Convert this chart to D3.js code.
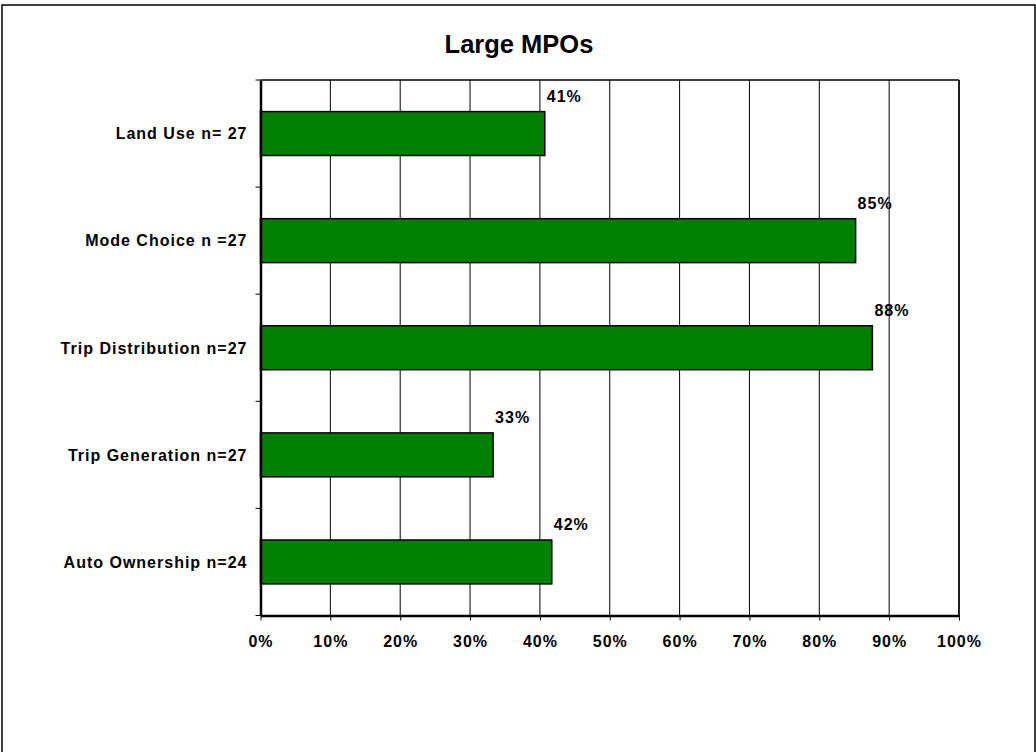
<!DOCTYPE html>
<html>
<head>
  <meta charset="utf-8">
  <style>
    body { margin: 0; background: #fff; }
    svg text {
      font-family: Arial, "Liberation Sans", sans-serif;
      font-weight: bold;
      fill: #000;
    }
    svg .lbl { font-size: 16px; letter-spacing: 1px; }
    svg .grid { stroke: #000; stroke-width: 1px; }
    svg .bar { fill: #008000; stroke: #000; stroke-width: 1.5px; }
  </style>
</head>
<body>
<script src="https://d3js.org/d3.v7.min.js"></script>
<script>
  // chart data
  var categories = ["Land Use n= 27", "Mode Choice n =27", "Trip Distribution n=27",
                    "Trip Generation n=27", "Auto Ownership n=24"];
  var shares = [0.407, 0.852, 0.876, 0.333, 0.417];
  var valueLabels = ["41%", "85%", "88%", "33%", "42%"];
  var xTicks = [0, 0.1, 0.2, 0.3, 0.4, 0.5, 0.6, 0.7, 0.8, 0.9, 1.0];
  var title = "Large MPOs";

  var W = 1036, H = 752;
  var padding = { top: 80, left: 260.5 };
  var width = 698.5, height = 535.5;

  var svg = d3.select("body").append("svg")
      .attr("width", W)
      .attr("height", H);

  // outer frame (bottom edge runs off the picture)
  svg.append("rect")
      .attr("x", 2).attr("y", 5)
      .attr("width", 1033).attr("height", 800)
      .style("fill", "none")
      .style("stroke", "#000")
      .style("stroke-width", "1.5px");

  svg.append("text")
      .attr("x", 519).attr("y", 53)
      .attr("text-anchor", "middle")
      .style("font-size", "25.5px")
      .text(title);

  var g = svg.append("g")
      .attr("transform", "translate(" + padding.left + "," + padding.top + ")");

  var x = d3.scaleLinear().domain([0, 1]).range([0, width]);
  var y = d3.scaleBand().domain(categories).range([0, height])
      .paddingInner(0.59).paddingOuter(0.295);
  var step = y.step();

  // vertical grid lines
  g.selectAll("line.grid")
    .data(xTicks.slice(1))
    .enter().append("line")
      .classed("grid", true)
      .attr("x1", function (d) { return x(d); })
      .attr("x2", function (d) { return x(d); })
      .attr("y1", 0)
      .attr("y2", height);

  // top border of plot area
  g.append("line")
      .attr("x1", 0).attr("x2", width)
      .attr("y1", 0).attr("y2", 0)
      .style("stroke", "#000").style("stroke-width", "1.5px");

  // bars
  g.selectAll("rect.bar")
    .data(categories)
    .enter().append("rect")
      .classed("bar", true)
      .attr("x", 0)
      .attr("y", function (d) { return y(d); })
      .attr("width", function (d, i) { return x(shares[i]); })
      .attr("height", y.bandwidth());

  // value labels
  g.selectAll("text.val")
    .data(categories)
    .enter().append("text")
      .attr("class", "lbl val")
      .attr("x", function (d, i) { return x(shares[i]) + 2; })
      .attr("y", function (d) { return y(d) - 10; })
      .text(function (d, i) { return valueLabels[i]; });

  // x axis
  var xAxis = d3.axisBottom(x)
      .tickValues(xTicks)
      .tickFormat(d3.format(".0%"))
      .tickSize(5)
      .tickSizeOuter(0)
      .tickPadding(14);

  var xa = g.append("g")
      .attr("transform", "translate(0," + height + ")")
      .call(xAxis);
  xa.select(".domain").style("stroke-width", "2.5px");
  xa.selectAll(".tick line").style("stroke-width", "1px");
  xa.selectAll(".tick text")
      .attr("class", "lbl")
      .attr("dy", "0.75em")
      .style("font-family", null)
      .style("font-size", null);
  xa.attr("font-size", null).attr("font-family", null);

  // y axis: ticks sit between categories
  var yAxis = d3.axisLeft(y).tickSize(0).tickPadding(13);
  var ya = g.append("g").call(yAxis);
  ya.attr("font-size", null).attr("font-family", null);
  ya.select(".domain").style("stroke-width", "2.5px");
  ya.selectAll(".tick text")
      .attr("class", "lbl")
      .attr("dy", "0.36em");

  var bounds = d3.range(categories.length + 1).map(function (i) { return i * step; });
  g.selectAll("line.ytick")
    .data(bounds)
    .enter().append("line")
      .attr("x1", -5).attr("x2", 0)
      .attr("y1", function (d) { return d; })
      .attr("y2", function (d) { return d; })
      .style("stroke", "#000")
      .style("stroke-width", "1px");

  // right border of plot area
  g.append("line")
      .attr("x1", width).attr("x2", width)
      .attr("y1", 0).attr("y2", height)
      .style("stroke", "#000").style("stroke-width", "1.5px");
</script>
</body>
</html>
